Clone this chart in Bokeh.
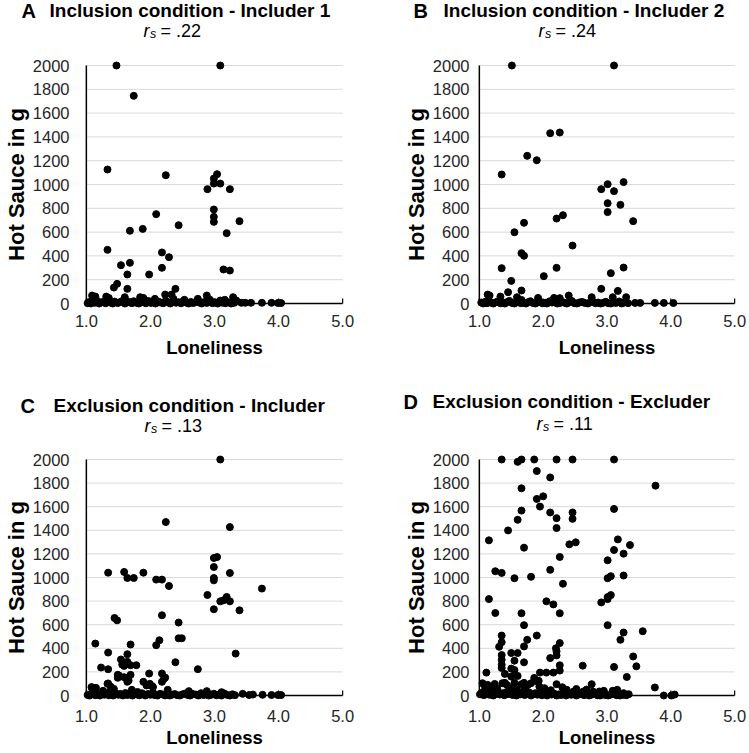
from bokeh.plotting import figure
from bokeh.layouts import column, row
from bokeh.models import Range1d, LinearAxis, FixedTicker, NumeralTickFormatter, Label
from bokeh.embed import file_html
from bokeh.resources import INLINE

FONT = "Liberation Sans"

x_ticks = [1, 2, 3, 4, 5]
y_ticks = [0, 200, 400, 600, 800, 1000, 1200, 1400, 1600, 1800, 2000]

letters = ["A", "B", "C", "D"]
titles = ["Inclusion condition - Includer 1", "Inclusion condition - Includer 2",
          "Exclusion condition - Includer", "Exclusion condition - Excluder"]
rs_values = [".22", ".24", ".13", ".11"]

# Panel A: Inclusion condition - Includer 1
a_x = ([1.47, 3.09, 1.74, 1.33, 2.24, 3.04, 2.99, 2.99, 3.09, 2.89, 3.24, 2.09, 2.99, 2.99, 2.99, 3.39, 2.44,
        1.68, 1.88, 3.19, 1.33, 2.18, 2.29, 1.54, 1.68, 2.18, 3.14, 3.24, 1.64, 1.98, 1.48, 1.43, 1.64, 2.39]
       + [1.09, 1.14, 1.31, 1.35, 1.60, 1.84, 1.89, 2.07, 2.23, 2.33, 2.36, 2.53, 2.74, 2.88, 2.93, 3.09, 3.16,
          3.29, 3.34, 3.42, 3.48, 3.57, 3.74, 3.89, 3.99, 4.04]
       + [1.02, 1.04, 1.07, 1.10, 1.13, 1.17, 1.20, 1.23, 1.27, 1.30, 1.34, 1.38, 1.41, 1.44, 1.49, 1.52, 1.56,
          1.60, 1.63, 1.67, 1.71, 1.74, 1.78, 1.82, 1.86, 1.90, 1.93, 1.97, 2.01, 2.05, 2.08, 2.12, 2.16, 2.20,
          2.24, 2.28, 2.31, 2.35, 2.40, 2.44, 2.48, 2.51, 2.56, 2.60, 2.63, 2.67, 2.72, 2.76, 2.80, 2.84, 2.88,
          2.92, 2.97, 3.01, 3.05, 3.08, 3.12, 3.17, 3.21, 3.26, 3.31])
a_y = ([2000, 2000, 1745, 1126, 1078, 1087, 1050, 1008, 1008, 961, 961, 751, 790, 728, 686, 692, 658,
        611, 627, 591, 451, 429, 389, 322, 342, 300, 286, 277, 244, 244, 165, 134, 123, 123]
       + [67, 58, 58, 47, 53, 53, 47, 39, 75, 75, 39, 31, 39, 67, 31, 25, 31,
          53, 25, 6, 6, 6, 6, 6, 4, 4]
       + [3, 12, 0, 18, 6, 22, 0, 9, 14, 2, 25, 7, 0, 16, 4, 11, 20,
          0, 8, 13, 3, 19, 6, 0, 15, 10, 2, 21, 5, 12, 0, 17, 8, 3,
          24, 9, 0, 14, 6, 11, 2, 18, 7, 0, 13, 4, 16, 9, 0, 12, 5,
          20, 3, 10, 0, 15, 7, 2, 11, 0, 6])

# Panel B: Inclusion condition - Includer 2
b_x = ([1.51, 3.11, 2.11, 2.26, 1.75, 1.90, 1.35, 2.91, 3.01, 3.11, 3.26, 3.01, 3.21, 3.01, 3.41, 2.21,
        2.31, 1.70, 1.55, 1.66, 1.70, 2.46, 1.35, 2.21, 2.01, 3.06, 3.26, 1.50, 1.66, 1.45, 2.91, 3.17]
       + [1.13, 1.16, 1.33, 1.59, 1.92, 2.17, 2.26, 2.40, 2.76, 3.09, 3.30, 1.66, 3.44, 3.52, 3.75, 3.89, 4.04]
       + [1.03, 1.06, 1.09, 1.12, 1.15, 1.19, 1.22, 1.26, 1.29, 1.33, 1.37, 1.40, 1.44, 1.47, 1.51, 1.55, 1.58,
          1.62, 1.65, 1.69, 1.73, 1.77, 1.80, 1.84, 1.88, 1.91, 1.95, 1.99, 2.03, 2.06, 2.10, 2.14, 2.18, 2.22,
          2.26, 2.29, 2.33, 2.37, 2.41, 2.45, 2.49, 2.53, 2.57, 2.61, 2.65, 2.70, 2.74, 2.78, 2.82, 2.86, 2.90,
          2.94, 2.98, 3.02, 3.06, 3.10, 3.14, 3.19, 3.23, 3.27, 3.33])
b_y = ([2000, 2000, 1431, 1437, 1241, 1204, 1084, 961, 1003, 944, 1020, 843, 829, 768, 692, 714,
        742, 678, 599, 423, 401, 487, 297, 300, 230, 255, 302, 190, 109, 95, 123, 106]
       + [75, 67, 58, 53, 47, 47, 45, 67, 53, 53, 53, 30, 5, 5, 5, 5, 4]
       + [8, 0, 14, 3, 20, 6, 0, 11, 17, 2, 9, 0, 13, 22, 5, 0, 10,
          16, 3, 7, 0, 12, 19, 4, 0, 9, 15, 2, 6, 0, 18, 8, 12, 0,
          4, 14, 7, 0, 10, 21, 3, 0, 9, 13, 5, 0, 11, 16, 2, 8, 0,
          6, 14, 3, 0, 10, 5, 17, 0, 8, 3])

# Panel C: Exclusion condition - Includer
c_x = ([3.09, 2.24, 3.24, 2.99, 3.04, 2.99, 2.99, 2.99, 3.24, 1.34, 1.59, 1.64, 1.74, 1.89, 2.09, 2.18,
        2.29, 3.74, 2.89, 3.09, 3.14, 3.19, 3.24, 2.99, 3.39, 2.18, 1.44, 1.48, 2.44, 2.44, 2.49, 2.14,
        2.09, 1.14, 1.69, 1.34, 1.64, 3.33, 1.54, 1.64, 2.39, 1.69, 1.59, 1.78, 1.23, 1.34, 2.74, 1.98,
        2.18, 1.49, 1.69, 1.64, 2.23, 1.49, 2.18, 1.64, 1.34, 1.89, 1.98, 2.03, 1.09, 1.14]
       + [1.51, 1.59, 1.66, 1.56, 2.21, 1.94, 1.99, 2.04, 1.33, 1.08, 1.15, 1.43, 1.71, 2.27, 2.60, 2.88,
          3.11, 3.44, 3.54, 3.60, 3.75, 3.89, 3.99, 4.04, 1.26, 1.38, 1.80]
       + [1.02, 1.05, 1.08, 1.11, 1.14, 1.18, 1.21, 1.25, 1.28, 1.32, 1.35, 1.39, 1.42, 1.46, 1.50, 1.53,
          1.57, 1.61, 1.64, 1.68, 1.72, 1.76, 1.79, 1.83, 1.87, 1.92, 1.96, 2.00, 2.04, 2.07, 2.11, 2.15,
          2.19, 2.23, 2.27, 2.30, 2.34, 2.38, 2.42, 2.46, 2.50, 2.54, 2.58, 2.62, 2.66, 2.71, 2.75, 2.79,
          2.83, 2.87, 2.91, 2.95, 2.99, 3.03, 3.07, 3.11, 3.15, 3.20, 3.24, 3.28, 3.32])
c_y = ([2000, 1470, 1427, 1165, 1173, 1089, 996, 976, 1038, 1041, 1047, 996, 996, 1041, 982, 982,
        928, 906, 852, 798, 807, 835, 798, 731, 722, 680, 657, 637, 618, 485, 485, 468,
        426, 440, 432, 364, 350, 355, 305, 285, 282, 257, 251, 257, 237, 223, 223, 186,
        186, 175, 175, 152, 152, 150, 116, 116, 102, 116, 87, 79, 59, 59]
       + [169, 155, 127, 262, 141, 85, 99, 71, 99, 71, 65, 56, 48, 48, 37, 37,
          28, 14, 4, 8, 6, 4, 4, 4, 40, 75, 30]
       + [5, 0, 12, 20, 3, 9, 0, 16, 7, 24, 2, 11, 0, 18, 6, 13,
          0, 21, 4, 10, 0, 15, 8, 2, 19, 0, 12, 6, 25, 3, 0, 14,
          9, 1, 17, 0, 7, 12, 3, 0, 10, 16, 5, 0, 13, 8, 0, 20,
          4, 11, 0, 6, 15, 2, 9, 0, 18, 5, 0, 10, 3])

# Panel D: Exclusion condition - Excluder
d_x = ([1.35, 1.60, 1.66, 1.86, 2.21, 2.46, 3.11, 1.90, 2.11, 1.66, 3.76, 2.00, 1.90, 1.95, 1.66, 3.11,
        2.46, 2.11, 2.21, 1.60, 2.46, 2.21, 1.45, 1.15, 1.70, 2.41, 2.51, 3.17, 3.36, 3.11, 3.26, 2.26,
        3.01, 1.25, 1.35, 2.11, 1.55, 1.81, 3.01, 3.06, 3.26, 2.31, 1.15, 2.05, 2.16, 2.91, 3.01, 3.06,
        3.01, 1.25, 1.66, 2.26, 1.70, 3.01, 3.56, 3.26, 1.35, 1.90, 3.21, 1.75, 1.35, 1.31, 1.70, 2.26,
        2.21, 2.21, 1.50, 1.60, 1.35, 1.35, 3.41, 2.11, 1.55, 1.70, 1.35, 2.26, 2.62, 3.11, 3.46, 1.35,
        1.50, 1.55, 2.26, 1.40, 1.95, 2.05, 2.16, 1.11, 1.50, 1.60, 3.31, 1.86]
       + [2.20, 2.21, 1.93, 1.81, 2.76, 3.75, 3.89, 1.05, 1.13, 1.20, 1.36, 1.43, 1.66, 1.76, 1.94, 2.02,
          2.37, 2.48, 2.63, 2.78, 2.88, 3.09, 3.16, 3.26, 3.34, 4.01, 4.06, 1.40, 1.55, 1.70, 1.90, 1.24,
          1.28, 1.47, 1.58, 1.72, 2.12, 2.30, 2.52, 2.68, 2.95, 1.09, 1.17]
       + [1.01, 1.04, 1.07, 1.10, 1.13, 1.16, 1.19, 1.22, 1.26, 1.29, 1.32, 1.36, 1.39, 1.42, 1.45, 1.48,
          1.52, 1.55, 1.58, 1.61, 1.64, 1.68, 1.71, 1.74, 1.78, 1.81, 1.84, 1.88, 1.91, 1.95, 1.98, 2.02,
          2.06, 2.09, 2.13, 2.17, 2.21, 2.25, 2.28, 2.32, 2.36, 2.40, 2.44, 2.48, 2.52, 2.56, 2.60, 2.64,
          2.68, 2.72, 2.76, 2.80, 2.85, 2.89, 2.93, 2.97, 3.02, 3.06, 3.11, 3.15, 3.20, 3.25, 3.30])
d_y = ([2000, 1980, 2000, 2000, 2000, 2000, 2000, 1902, 1848, 1756, 1778, 1688, 1666, 1601, 1567, 1581,
        1551, 1551, 1503, 1489, 1497, 1419, 1399, 1315, 1253, 1281, 1298, 1323, 1275, 1233, 1202, 1174,
        1146, 1053, 1039, 1065, 994, 1006, 994, 1011, 1017, 947, 817, 798, 772, 789, 834, 851,
        817, 699, 697, 697, 596, 596, 545, 534, 508, 508, 472, 472, 452, 413, 416, 444,
        374, 340, 360, 360, 343, 303, 331, 317, 295, 281, 261, 256, 253, 242, 247, 233,
        228, 216, 211, 183, 194, 194, 194, 194, 160, 166, 157, 149]
       + [400, 96, 124, 104, 96, 68, 0, 104, 90, 76, 104, 90, 96, 90, 76, 62,
          48, 34, 34, 34, 34, 40, 48, 20, 11, 0, 8, 107, 107, 107, 121, 98,
          60, 70, 55, 65, 45, 70, 55, 50, 40, 70, 45]
       + [10, 25, 3, 18, 35, 6, 22, 0, 14, 30, 8, 19, 2, 27, 12, 38,
          5, 16, 0, 24, 9, 33, 4, 15, 26, 0, 11, 20, 7, 29, 2, 13,
          0, 21, 8, 17, 0, 10, 4, 23, 0, 14, 6, 18, 0, 9, 20, 3,
          12, 0, 7, 16, 2, 0, 11, 5, 0, 8, 15, 3, 0, 6, 2])


def make_header(idx, width, height, letter_x, title_x, title_y, r_x, sub_y):
    h = figure(width=width, height=height, x_range=Range1d(0, width), y_range=Range1d(0, height),
               x_axis_location=None, y_axis_location=None, toolbar_location=None,
               output_backend="svg", min_border=0)
    h.outline_line_color = None
    h.xgrid.visible = False
    h.ygrid.visible = False

    def lab(x, y, text, size, style="normal"):
        h.add_layout(Label(x=x, y=y, x_units="screen", y_units="screen", text=text,
                           text_font=FONT, text_font_style=style, text_font_size=size,
                           text_color="black", text_baseline="alphabetic", text_align="left"))

    lab(letter_x, title_y, letters[idx], "20px", "bold")
    lab(title_x, title_y, titles[idx], "19px", "bold")
    lab(r_x, sub_y, "r", "18px", "italic")
    lab(r_x + 6.5, sub_y - 3.5, "s", "12.5px", "italic")
    lab(r_x + 17, sub_y, "= " + rs_values[idx], "18px")
    return h


def make_plot(xs, ys, width, height, bl, br, bt, bb, tick_standoff, label_standoff, ytick_standoff):
    frame_w = width - bl - br
    frame_h = height - bt - bb
    pad = 7  # px between frame edge and the axis bounds (keeps edge dots unclipped)
    ux = (x_ticks[-1] - x_ticks[0]) / (frame_w - 2 * pad)
    uy = (y_ticks[-1] - y_ticks[0]) / (frame_h - 2 * 6)
    p = figure(width=width, height=height,
               x_range=Range1d(x_ticks[0] - pad * ux, x_ticks[-1] + pad * ux),
               y_range=Range1d(y_ticks[0] - 6 * uy, y_ticks[-1] + 6 * uy),
               x_axis_location=None, y_axis_location=None,
               toolbar_location=None, output_backend="svg",
               min_border_left=bl, min_border_right=br,
               min_border_top=bt, min_border_bottom=bb)
    p.outline_line_color = None
    p.xgrid.visible = False
    p.ygrid.visible = False

    # horizontal gridlines
    gy = y_ticks[1:]
    p.segment(x0=[x_ticks[0]] * len(gy), x1=[x_ticks[-1]] * len(gy), y0=gy, y1=gy,
              line_color="#d9d9d9", line_width=1)
    # axis lines and small inner ticks on the horizontal axis
    p.segment(x0=[x_ticks[0], x_ticks[0]], x1=[x_ticks[-1], x_ticks[0]],
              y0=[y_ticks[0], y_ticks[0]], y1=[y_ticks[0], y_ticks[-1]],
              line_color="black", line_width=1.5)
    p.segment(x0=x_ticks, x1=x_ticks, y0=[y_ticks[0]] * len(x_ticks),
              y1=[y_ticks[0] + 5 * uy] * len(x_ticks), line_color="black", line_width=1.2)

    p.scatter(xs, ys, size=7, fill_color="black", line_color="black")

    xa = LinearAxis(bounds=(x_ticks[0], x_ticks[-1]), ticker=FixedTicker(ticks=x_ticks),
                    formatter=NumeralTickFormatter(format="0.0"), axis_label="Loneliness")
    xa.axis_line_color = None
    xa.major_tick_line_color = None
    xa.minor_tick_line_color = None
    xa.major_tick_in = 0
    xa.major_tick_out = 0
    xa.major_label_text_font = FONT
    xa.major_label_text_font_size = "16.5px"
    xa.major_label_text_color = "#262626"
    xa.major_label_standoff = tick_standoff
    xa.axis_label_text_font = FONT
    xa.axis_label_text_font_style = "bold"
    xa.axis_label_text_font_size = "18.5px"
    xa.axis_label_text_color = "black"
    xa.axis_label_standoff = label_standoff
    p.add_layout(xa, "below")

    ya = LinearAxis(bounds=(y_ticks[0], y_ticks[-1]), ticker=FixedTicker(ticks=y_ticks),
                    axis_label="Hot Sauce in g")
    ya.axis_line_color = None
    ya.major_tick_line_color = None
    ya.minor_tick_line_color = None
    ya.major_tick_in = 0
    ya.major_tick_out = 0
    ya.major_label_text_font = FONT
    ya.major_label_text_font_size = "16.5px"
    ya.major_label_text_color = "#262626"
    ya.major_label_standoff = ytick_standoff
    ya.axis_label_text_font = FONT
    ya.axis_label_text_font_style = "bold"
    ya.axis_label_text_font_size = "22px"
    ya.axis_label_text_color = "black"
    ya.axis_label_standoff = 1
    p.add_layout(ya, "left")
    return p


hA = make_header(0, 400, 49, 21, 49, 39, 143, 19)
hB = make_header(1, 349, 49, 13, 43, 39, 138, 19)
pA = make_plot(a_x, a_y, 400, 326, 73, 51, 10, 66, 5, 7, 10)
pB = make_plot(b_x, b_y, 349, 326, 66, 8, 10, 66, 5, 7, 3)
hC = make_header(2, 400, 68, 20, 53, 38, 144, 18)
hD = make_header(3, 349, 68, 3, 32, 42, 136, 20)
pC = make_plot(c_x, c_y, 400, 310, 73, 51, 10, 52, 8, 2, 10)
pD = make_plot(d_x, d_y, 349, 310, 66, 8, 10, 52, 8, 2, 3)

layout = column(row(hA, hB), row(pA, pB), row(hC, hD), row(pC, pD))
open("out.html", "w").write(file_html(layout, INLINE))
